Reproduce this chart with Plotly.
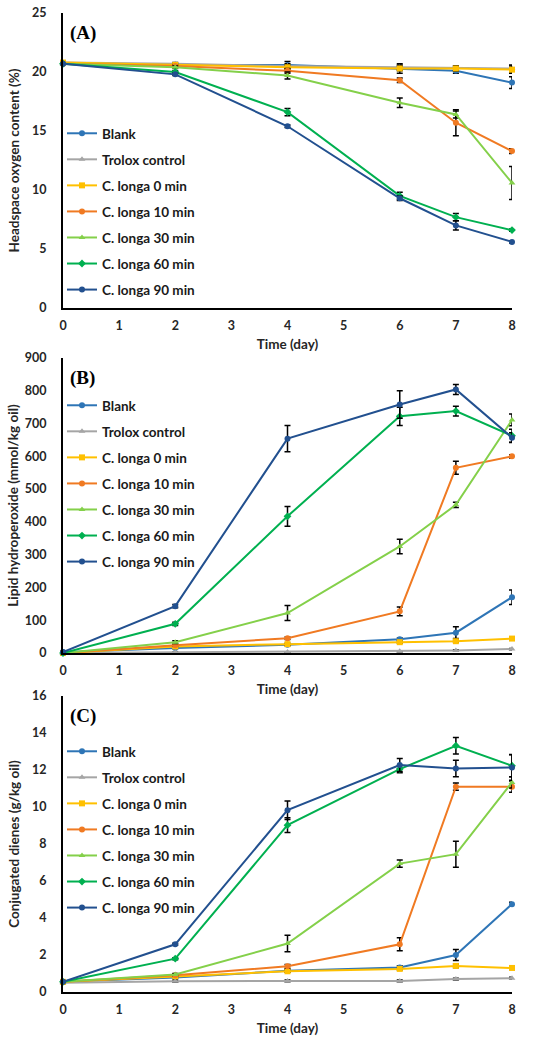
import plotly.graph_objects as go

days = [0, 2, 4, 6, 7, 8]
series_names = ["Blank", "Trolox control", "C. longa 0 min", "C. longa 10 min",
                "C. longa 30 min", "C. longa 60 min", "C. longa 90 min"]
colors = ["#2E75B6", "#A5A5A5", "#FFC000", "#F07A22", "#84D04A", "#00B050", "#22508F"]
symbols = ["circle", "triangle-up", "square", "circle", "triangle-up", "diamond", "circle"]

# Panel A: headspace oxygen content (%)
oxy_blank = [20.7, 20.6, 20.6, 20.3, 20.1, 19.1]
oxy_trolox = [20.8, 20.7, 20.5, 20.4, 20.3, 20.3]
oxy_c0 = [20.8, 20.6, 20.4, 20.3, 20.3, 20.2]
oxy_c10 = [20.7, 20.5, 20.1, 19.3, 15.7, 13.3]
oxy_c30 = [20.7, 20.4, 19.7, 17.4, 16.4, 10.6]
oxy_c60 = [20.7, 20.0, 16.6, 9.5, 7.7, 6.6]
oxy_c90 = [20.7, 19.8, 15.4, 9.3, 7.0, 5.6]
oxy_err = [
    [0, 0.1, 0.3, 0.4, 0.2, 0.5],
    [0, 0.1, 0.2, 0.2, 0.2, 0.3],
    [0, 0.1, 0.2, 0.2, 0.2, 0.3],
    [0, 0.1, 0.2, 0.2, 1.1, 0.2],
    [0, 0.1, 0.3, 0.4, 0.3, 1.4],
    [0, 0.1, 0.3, 0.3, 0.3, 0.1],
    [0, 0.1, 0.1, 0.2, 0.4, 0.1],
]

# Panel B: lipid hydroperoxide (mmol/kg oil)
hp_blank = [2, 15, 25, 42, 62, 170]
hp_trolox = [0, 2, 3, 5, 8, 12]
hp_c0 = [0, 20, 27, 33, 36, 44]
hp_c10 = [0, 24, 45, 127, 565, 600]
hp_c30 = [0, 33, 122, 325, 452, 711]
hp_c60 = [0, 89, 417, 722, 738, 663]
hp_c90 = [3, 143, 654, 758, 804, 657]
hp_err = [
    [0, 2, 3, 4, 18, 22],
    [0, 1, 1, 1, 2, 2],
    [0, 2, 3, 3, 3, 3],
    [0, 3, 4, 13, 20, 5],
    [0, 4, 23, 22, 8, 18],
    [0, 5, 30, 28, 15, 20],
    [0, 5, 40, 42, 15, 15],
]

# Panel C: conjugated dienes (g/kg oil)
cd_blank = [0.55, 0.78, 1.15, 1.32, 2.0, 4.75]
cd_trolox = [0.5, 0.58, 0.6, 0.6, 0.7, 0.75]
cd_c0 = [0.55, 0.85, 1.12, 1.25, 1.41, 1.3]
cd_c10 = [0.55, 0.9, 1.39, 2.58, 11.1, 11.1]
cd_c30 = [0.55, 0.95, 2.62, 6.94, 7.45, 11.33]
cd_c60 = [0.55, 1.8, 9.02, 12.05, 13.31, 12.23]
cd_c90 = [0.55, 2.58, 9.83, 12.27, 12.08, 12.14]
cd_err = [
    [0, 0.05, 0.05, 0.1, 0.3, 0.1],
    [0, 0.05, 0.05, 0.05, 0.05, 0.05],
    [0, 0.05, 0.05, 0.05, 0.1, 0.05],
    [0, 0.05, 0.1, 0.35, 0.2, 0.3],
    [0, 0.05, 0.45, 0.2, 0.7, 0.3],
    [0, 0.05, 0.4, 0.2, 0.45, 0.6],
    [0, 0.05, 0.5, 0.35, 0.45, 0.7],
]

panels = [
    dict(data=[oxy_blank, oxy_trolox, oxy_c0, oxy_c10, oxy_c30, oxy_c60, oxy_c90], err=oxy_err,
         title="Headspace oxygen content (%)", rng=[0, 25], dtick=5, label="(A)", ystand=9),
    dict(data=[hp_blank, hp_trolox, hp_c0, hp_c10, hp_c30, hp_c60, hp_c90], err=hp_err,
         title="Lipid hydroperoxide (mmol/kg oil)", rng=[0, 900], dtick=100, label="(B)", ystand=3),
    dict(data=[cd_blank, cd_trolox, cd_c0, cd_c10, cd_c30, cd_c60, cd_c90], err=cd_err,
         title="Conjugated dienes (g/kg oil)", rng=[0, 16], dtick=2, label="(C)", ystand=9),
]

H = 1042.0
W = 550.0
# pixel boxes of plot areas (top, bottom)
boxes = [(13, 308), (358, 653), (696, 992)]
legend_tops = [118, 390, 736]
xdom = [63 / W, 512 / W]

fig = go.Figure()
layout = dict(width=550, height=1042, margin=dict(l=0, r=0, t=0, b=0, autoexpand=False),
              paper_bgcolor="white", plot_bgcolor="white", showlegend=True,
              font=dict(family="Lato, Open Sans, sans-serif", color="#262626"))

annotations = []
for p, panel in enumerate(panels):
    sfx = "" if p == 0 else str(p + 1)
    xa = "x" + sfx
    ya = "y" + sfx
    lg = "legend" + sfx
    for i, name in enumerate(series_names):
        fig.add_trace(go.Scatter(
            x=days, y=panel["data"][i], name=name, mode="lines+markers",
            xaxis=xa, yaxis=ya, legend=lg, legendgroup=f"{p}-{i}",
            line=dict(color=colors[i], width=2),
            marker=dict(symbol=symbols[i], size=6, color=colors[i]),
            error_y=dict(type="data", array=panel["err"][i], visible=True,
                         color="black", thickness=1.5, width=3),
            cliponaxis=False,
        ))
    top, bot = boxes[p]
    ydom = [1 - bot / H, 1 - top / H]
    layout["xaxis" + sfx] = dict(
        domain=xdom, range=[0, 8], dtick=1, anchor=ya, automargin=False,
        showline=True, linecolor="black", linewidth=2, showgrid=False, zeroline=False,
        ticks="", ticklabelstandoff=5,
        tickfont=dict(size=12.5, color="#262626", weight="bold"),
        title=dict(text="Time (day)", font=dict(size=13.5, weight="bold", color="#262626"), standoff=8),
    )
    layout["yaxis" + sfx] = dict(
        domain=ydom, range=panel["rng"], dtick=panel["dtick"], anchor=xa, automargin=False,
        showline=True, linecolor="black", linewidth=2, showgrid=False, zeroline=False,
        ticks="", ticklabelstandoff=12,
        tickfont=dict(size=12.5, color="#262626", weight="bold"),
        title=dict(text=panel["title"], font=dict(size=13.5, weight="bold", color="#262626"),
                   standoff=panel["ystand"]),
    )
    layout[lg] = dict(
        x=62 / W, y=1 - legend_tops[p] / H, xanchor="left", yanchor="top",
        bgcolor="rgba(0,0,0,0)", font=dict(size=13.5, color="#1a1a1a", weight="bold"),
        itemwidth=30, tracegroupgap=5.5, traceorder="grouped",
    )
    annotations.append(dict(
        text="<b>" + panel["label"] + "</b>", xref="paper", yref="paper",
        x=68 / W, y=1 - (top + 20) / H, xanchor="left", yanchor="middle",
        showarrow=False, font=dict(family="Liberation Serif, Times New Roman, serif", size=19, color="black"),
    ))

layout["annotations"] = annotations
fig.update_layout(**layout)
fig.write_html("out.html", config={"displayModeBar": False},
               post_script="document.body.style.margin='0';document.body.style.overflow='hidden';")
